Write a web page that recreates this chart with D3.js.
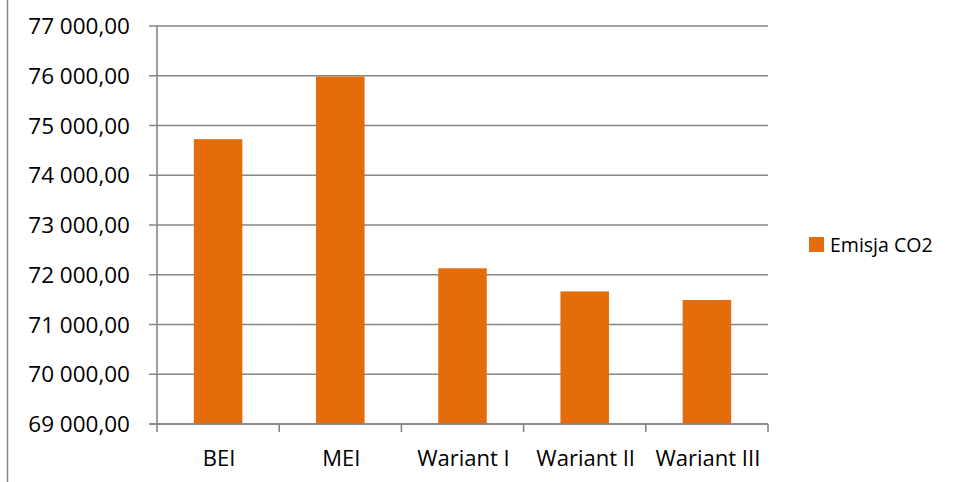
<!DOCTYPE html>
<html><head><meta charset="utf-8">
<script src="https://cdn.jsdelivr.net/npm/d3@7"></script>
<style>html,body{margin:0;padding:0;background:#fff;}svg{display:block;}</style>
</head><body>
<script>
const categories = ["BEI", "MEI", "Wariant I", "Wariant II", "Wariant III"];
const values = [74725, 75985, 72130, 71665, 71492];
const yTicks = [69000, 70000, 71000, 72000, 73000, 74000, 75000, 76000, 77000];
const seriesName = "Emisja CO2";

const W = 956, H = 482;
const m = {left: 157, right: 768, top: 26, bottom: 424};
const color = "#E46C0A";
const gridColor = "#868686";
const font = "'Open Sans', sans-serif";

const svg = d3.select("body").append("svg").attr("width", W).attr("height", H);

// outer left border
svg.append("line").attr("x1", 7.5).attr("x2", 7.5).attr("y1", 0).attr("y2", H)
  .attr("stroke", gridColor).attr("stroke-width", 1.5);

const x = d3.scaleBand().domain(categories).range([m.left, m.right]).padding(0);
const y = d3.scaleLinear().domain([69000, 77000]).range([m.bottom, m.top]);

const fmt = v => d3.format(",.2f")(v).replace(",", " ").replace(".", ",");

// gridlines
svg.append("g").selectAll("line").data(yTicks).join("line")
  .attr("x1", m.left - 8).attr("x2", m.right)
  .attr("y1", d => y(d)).attr("y2", d => y(d))
  .attr("stroke", gridColor).attr("stroke-width", 1.6);

// y axis line
svg.append("line").attr("x1", m.left).attr("x2", m.left).attr("y1", m.top).attr("y2", m.bottom + 8)
  .attr("stroke", gridColor).attr("stroke-width", 1.6);

// x ticks at band boundaries
const bounds = categories.map(c => x(c)).concat([x(categories[categories.length-1]) + x.bandwidth()]);
svg.append("g").selectAll("line").data(bounds.slice(1)).join("line")
  .attr("x1", d => d).attr("x2", d => d).attr("y1", m.bottom).attr("y2", m.bottom + 8)
  .attr("stroke", gridColor).attr("stroke-width", 1.6);

// bars
const bw = x.bandwidth() * 0.397;
svg.append("g").selectAll("rect").data(categories).join("rect")
  .attr("x", (d) => x(d) + x.bandwidth()/2 - bw/2)
  .attr("width", bw)
  .attr("y", (d, i) => y(values[i]))
  .attr("height", (d, i) => y(69000) - y(values[i]))
  .attr("fill", color);

// redraw bottom axis line over bars
svg.append("line").attr("x1", m.left - 8).attr("x2", m.right).attr("y1", y(69000)).attr("y2", y(69000))
  .attr("stroke", gridColor).attr("stroke-width", 1.6);

// y labels
svg.append("g").selectAll("text").data(yTicks).join("text")
  .attr("x", 130).attr("y", d => y(d)).attr("dy", "0.36em")
  .attr("text-anchor", "end").attr("font-family", font).attr("font-size", 22.5)
  .attr("fill", "#000").text(fmt);

// x labels
svg.append("g").selectAll("text").data(categories).join("text")
  .attr("x", d => x(d) + x.bandwidth()/2 + 1).attr("y", 466)
  .attr("text-anchor", "middle").attr("font-family", font).attr("font-size", 22)
  .attr("fill", "#000").text(d => d);

// legend
svg.append("rect").attr("x", 809).attr("y", 237).attr("width", 15).attr("height", 15).attr("fill", color);
svg.append("text").attr("x", 830).attr("y", 245).attr("dy", "0.36em")
  .attr("font-family", font).attr("font-size", 19.5).attr("fill", "#000").text(seriesName);
</script>
</body></html>
